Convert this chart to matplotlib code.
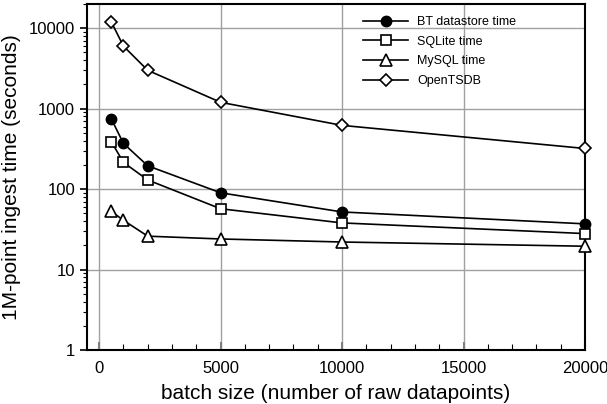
import matplotlib
matplotlib.use("Agg")
import matplotlib.pyplot as plt
from matplotlib.ticker import FixedLocator, NullFormatter, LogLocator

plt.rcParams['font.family'] = ['Liberation Sans', 'DejaVu Sans']

batch = [500, 1000, 2000, 5000, 10000, 20000]
bt_time = [750, 370, 195, 90, 52, 37]
sqlite_time = [390, 215, 130, 57, 38, 28]
mysql_time = [53, 41, 26, 24, 22, 19.5]
opentsdb_time = [12000, 6000, 3000, 1200, 620, 320]

labels = ["BT datastore time", "SQLite time", "MySQL time", "OpenTSDB"]
x_ticks = [0, 5000, 10000, 15000, 20000]
y_ticks = [1, 10, 100, 1000, 10000]

fig = plt.figure(figsize=(6.07, 4.04), dpi=100)
ax = fig.add_axes([0.1433, 0.1337, 0.8205, 0.8563])

ms = 7.5
ax.plot(batch, bt_time, color='black', lw=1.2, marker='o', ms=ms, mfc='black', mec='black', label=labels[0], clip_on=False, zorder=3)
ax.plot(batch, sqlite_time, color='black', lw=1.2, marker='s', ms=ms, mfc='white', mec='black', mew=1.2, label=labels[1], clip_on=False, zorder=3)
ax.plot(batch, mysql_time, color='black', lw=1.2, marker='^', ms=ms+1, mfc='white', mec='black', mew=1.2, label=labels[2], clip_on=False, zorder=3)
ax.plot(batch, opentsdb_time, color='black', lw=1.2, marker='D', ms=ms-1, mfc='white', mec='black', mew=1.2, label=labels[3], clip_on=False, zorder=3)

ax.set_yscale('log')
ax.set_xlim(-500, 20000)
ax.set_ylim(1, 20000)
ax.set_xticks(x_ticks)
ax.set_xticklabels([str(t) for t in x_ticks])
ax.set_yticks(y_ticks)
ax.set_yticklabels([str(t) for t in y_ticks])
ax.xaxis.set_minor_locator(FixedLocator(range(0, 20001, 1000)))
ax.yaxis.set_minor_locator(LogLocator(base=10, subs=range(2, 10)))
ax.yaxis.set_minor_formatter(NullFormatter())

ax.grid(True, which='major', color='#a0a0a0', lw=1.0, zorder=0)
ax.tick_params(axis='x', which='both', direction='in', labelsize=12, pad=8)
ax.tick_params(axis='x', which='major', length=6, width=1.5, color='#808080')
ax.tick_params(axis='x', which='minor', length=4, width=0.8)
ax.tick_params(axis='y', which='both', direction='out', labelsize=12)
ax.tick_params(axis='y', which='major', length=5, width=1.2)
ax.tick_params(axis='y', which='minor', length=3, width=0.8)
for s in ax.spines.values():
    s.set_linewidth(1.5)

ax.set_xlabel("batch size (number of raw datapoints)", fontsize=15, labelpad=6)
ax.set_ylabel("1M-point ingest time (seconds)", fontsize=15, labelpad=6)

ax.legend(loc='upper right', frameon=False, fontsize=9, handlelength=3.6,
          bbox_to_anchor=(0.885, 1.0), labelspacing=0.62, borderaxespad=0.55,
          handletextpad=0.7)

fig.savefig("out.png", dpi=100)
